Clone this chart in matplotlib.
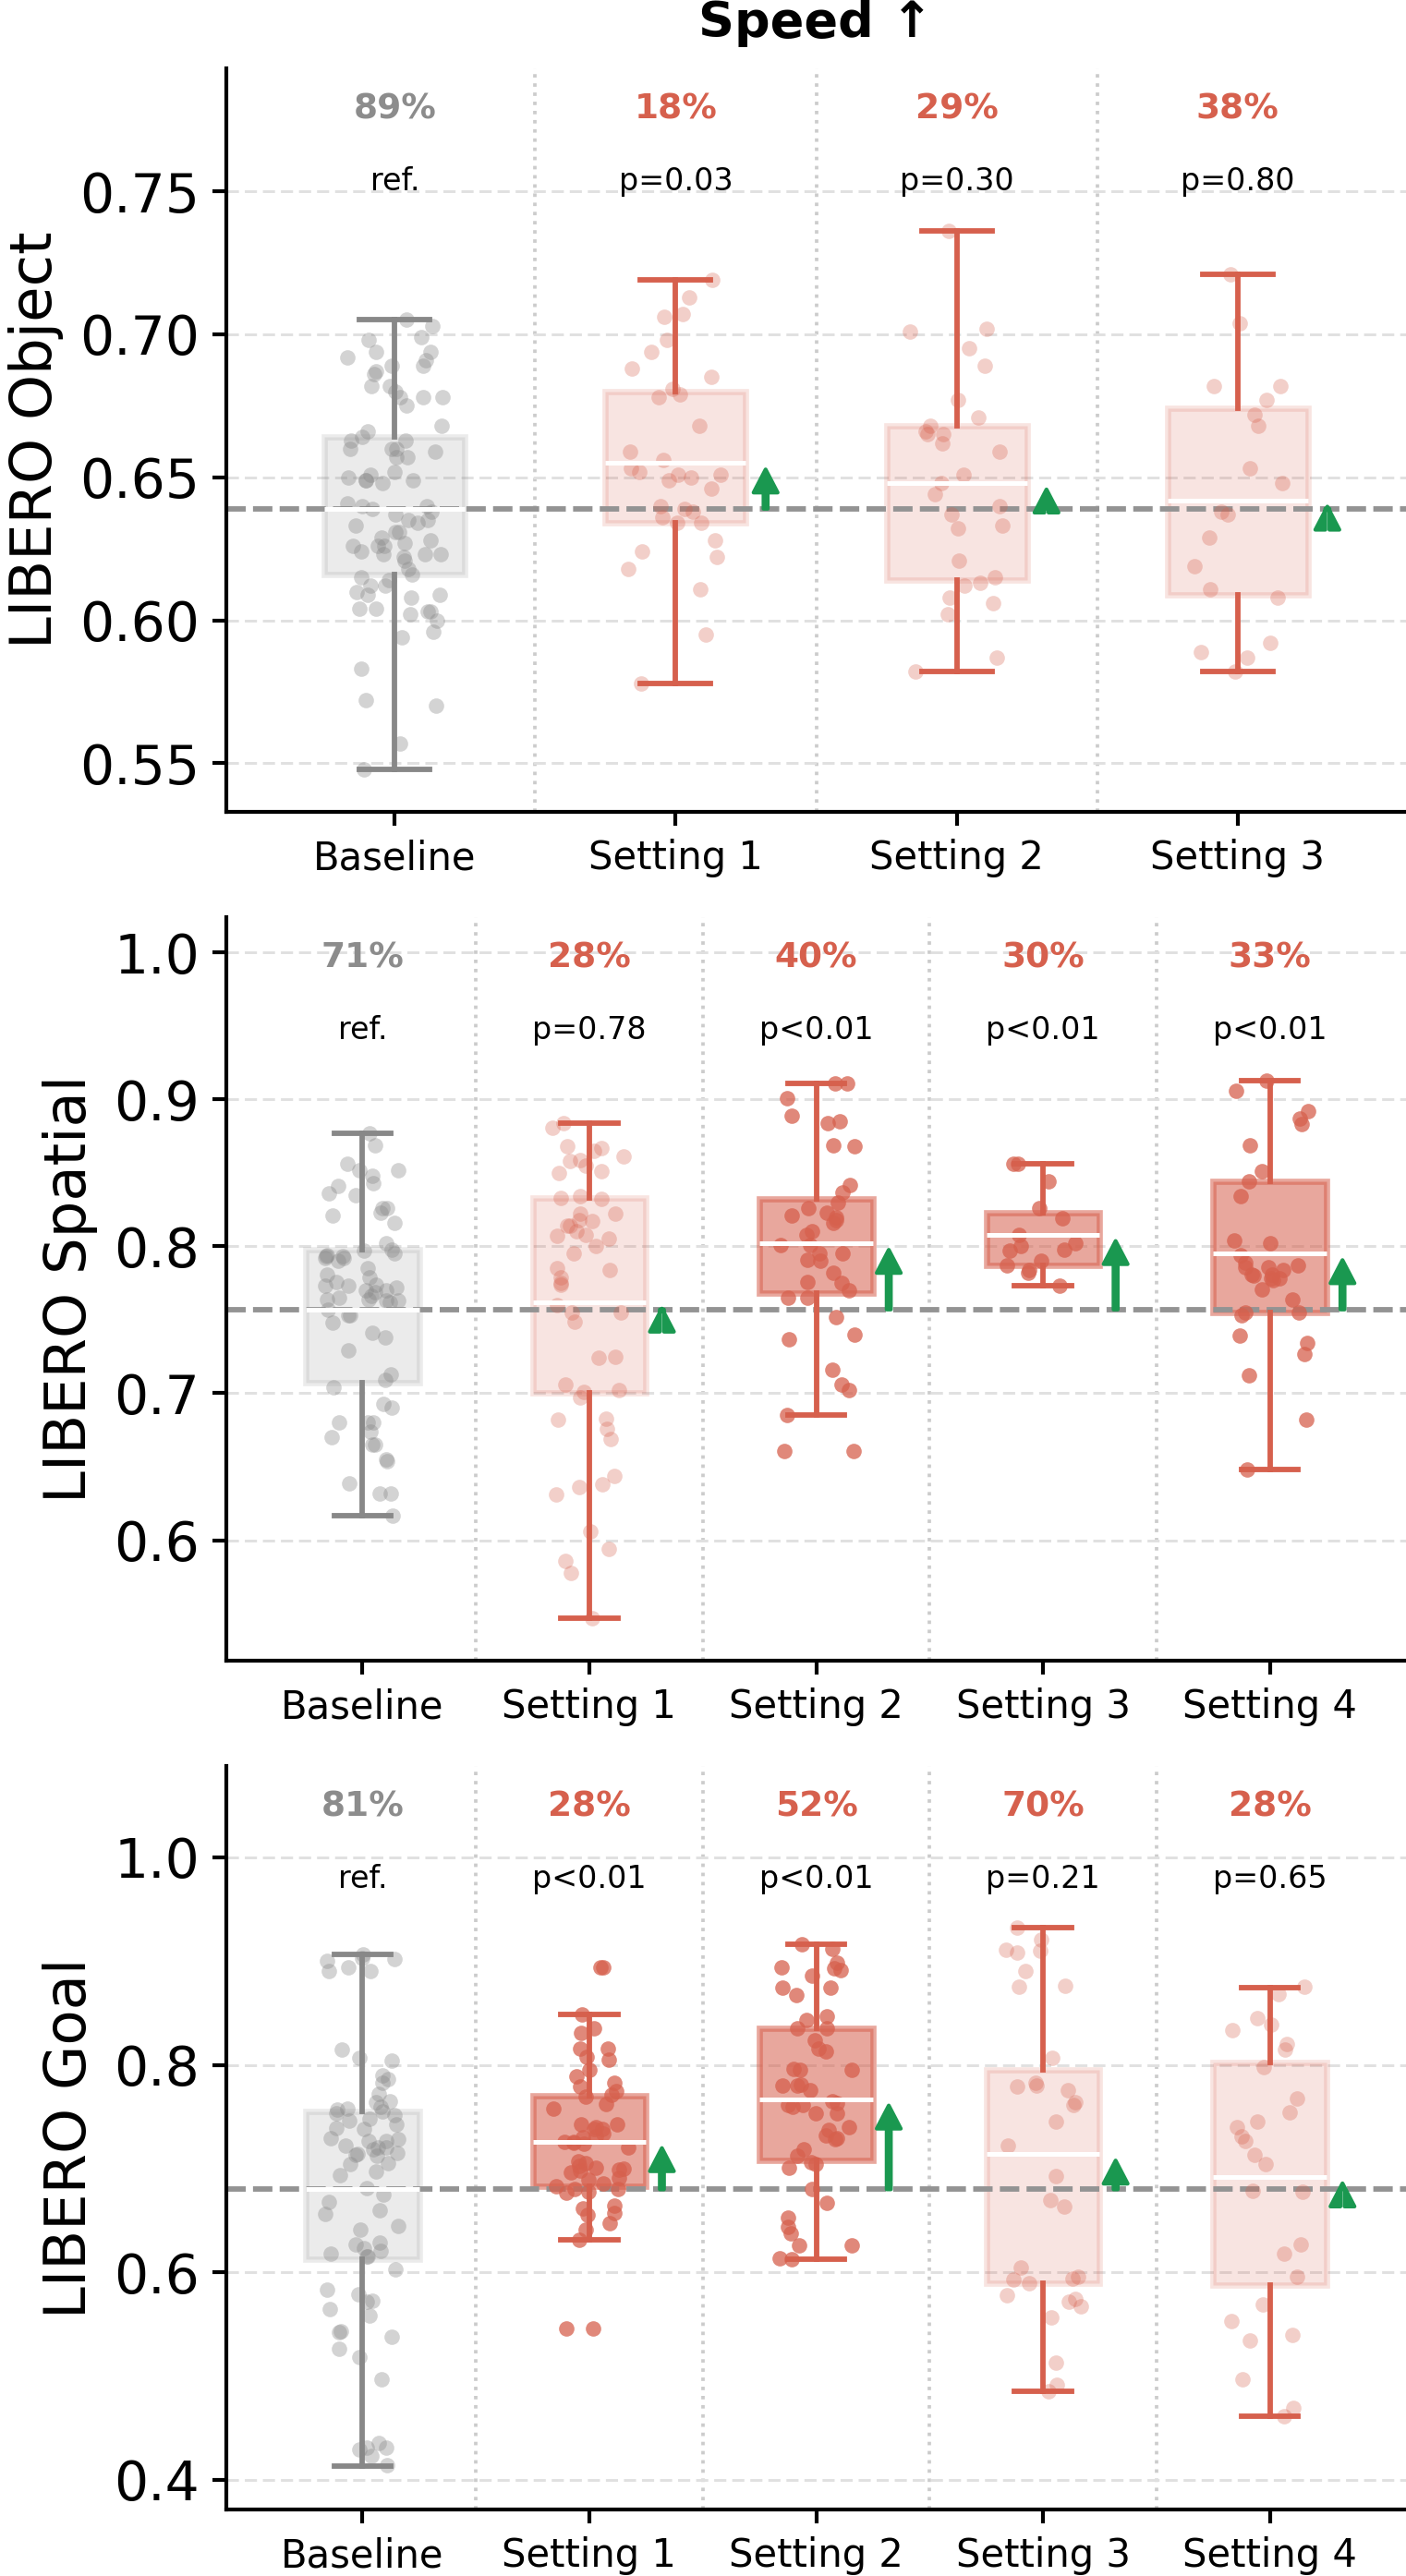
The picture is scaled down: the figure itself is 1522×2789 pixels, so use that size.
import numpy as np
import matplotlib
matplotlib.use("Agg")
import matplotlib.pyplot as plt
from matplotlib.patches import FancyArrow
from matplotlib.colors import to_rgba
import matplotlib.transforms as mtransforms

plt.rcParams['font.family'] = ['DejaVu Sans']

# ---------------- data ----------------
title = "Speed \u2191"
panel_names = ["LIBERO Object", "LIBERO Spatial", "LIBERO Goal"]

# LIBERO Object
obj_labels = ["Baseline", "Setting 1", "Setting 2", "Setting 3"]
obj_rates = ["89%", "18%", "29%", "38%"]
obj_pvals = ["ref.", "p=0.03", "p=0.30", "p=0.80"]
obj_med = [0.639, 0.655, 0.648, 0.642]
obj_q1 = [0.616, 0.634, 0.614, 0.609]
obj_q3 = [0.664, 0.680, 0.668, 0.674]
obj_lo = [0.548, 0.578, 0.582, 0.582]
obj_hi = [0.705, 0.719, 0.736, 0.721]
obj_base = [0.705, 0.703, 0.699, 0.698, 0.694, 0.694, 0.692, 0.691, 0.689, 0.689, 0.687, 0.686,
            0.682, 0.682, 0.680, 0.678, 0.678, 0.678, 0.675, 0.668, 0.666, 0.664, 0.663, 0.663,
            0.660, 0.660, 0.660, 0.659, 0.657, 0.657, 0.652, 0.651, 0.650, 0.649, 0.649, 0.649,
            0.648, 0.641, 0.640, 0.640, 0.639, 0.638, 0.637, 0.635, 0.635, 0.634, 0.633, 0.631,
            0.631, 0.628, 0.629, 0.627, 0.626, 0.626, 0.626, 0.624, 0.623, 0.623, 0.623, 0.622,
            0.621, 0.618, 0.616, 0.615, 0.614, 0.612, 0.612, 0.610, 0.609, 0.609, 0.608, 0.604,
            0.603, 0.602, 0.604, 0.603, 0.600, 0.596, 0.594, 0.583, 0.572, 0.570, 0.557, 0.548]
obj_s1 = [0.719, 0.713, 0.707, 0.706, 0.698, 0.694, 0.688, 0.685, 0.681, 0.679, 0.678, 0.668,
          0.659, 0.656, 0.653, 0.652, 0.651, 0.650, 0.649, 0.651, 0.646, 0.640, 0.639, 0.638,
          0.636, 0.634, 0.634, 0.628, 0.624, 0.622, 0.618, 0.611, 0.595, 0.578]
obj_s2 = [0.736, 0.702, 0.701, 0.695, 0.689, 0.677, 0.671, 0.668, 0.665, 0.665, 0.666, 0.662,
          0.659, 0.651, 0.648, 0.644, 0.640, 0.637, 0.633, 0.632, 0.621, 0.615, 0.613, 0.612,
          0.608, 0.606, 0.602, 0.587, 0.582]
obj_s3 = [0.721, 0.704, 0.682, 0.682, 0.677, 0.672, 0.668, 0.653, 0.648, 0.638, 0.637, 0.629,
          0.619, 0.611, 0.608, 0.592, 0.589, 0.587, 0.582]

# LIBERO Spatial
spa_labels = ["Baseline", "Setting 1", "Setting 2", "Setting 3", "Setting 4"]
spa_rates = ["71%", "28%", "40%", "30%", "33%"]
spa_pvals = ["ref.", "p=0.78", "p<0.01", "p<0.01", "p<0.01"]
spa_med = [0.757, 0.762, 0.802, 0.808, 0.795]
spa_q1 = [0.707, 0.700, 0.768, 0.787, 0.755]
spa_q3 = [0.798, 0.833, 0.832, 0.823, 0.844]
spa_lo = [0.617, 0.547, 0.685, 0.773, 0.648]
spa_hi = [0.877, 0.884, 0.911, 0.856, 0.913]
spa_base = [0.877, 0.869, 0.856, 0.852, 0.852, 0.848, 0.843, 0.841, 0.836, 0.835, 0.826, 0.826,
            0.823, 0.821, 0.816, 0.802, 0.798, 0.797, 0.795, 0.794, 0.793, 0.792, 0.792, 0.793,
            0.790, 0.785, 0.781, 0.779, 0.776, 0.774, 0.773, 0.773, 0.772, 0.770, 0.770, 0.769,
            0.766, 0.765, 0.764, 0.764, 0.763, 0.763, 0.762, 0.757, 0.753, 0.753, 0.748, 0.741,
            0.738, 0.729, 0.713, 0.709, 0.704, 0.693, 0.690, 0.680, 0.680, 0.680, 0.674, 0.670,
            0.665, 0.665, 0.654, 0.655, 0.639, 0.632, 0.632, 0.617]
spa_s1 = [0.884, 0.881, 0.867, 0.868, 0.865, 0.861, 0.859, 0.858, 0.855, 0.851, 0.850, 0.834,
          0.833, 0.832, 0.822, 0.822, 0.818, 0.817, 0.814, 0.814, 0.810, 0.808, 0.807, 0.805,
          0.800, 0.795, 0.785, 0.784, 0.779, 0.774, 0.775, 0.760, 0.755, 0.755, 0.749, 0.725,
          0.724, 0.706, 0.701, 0.702, 0.697, 0.683, 0.682, 0.676, 0.669, 0.644, 0.638, 0.636,
          0.631, 0.606, 0.594, 0.586, 0.578, 0.547]
spa_s2 = [0.911, 0.911, 0.901, 0.889, 0.885, 0.884, 0.869, 0.868, 0.842, 0.837, 0.830, 0.826,
          0.823, 0.821, 0.820, 0.818, 0.816, 0.810, 0.808, 0.801, 0.801, 0.795, 0.795, 0.791,
          0.790, 0.782, 0.776, 0.775, 0.770, 0.765, 0.765, 0.752, 0.740, 0.737, 0.716, 0.706,
          0.702, 0.685, 0.661, 0.661]
spa_s3 = [0.856, 0.856, 0.844, 0.826, 0.819, 0.808, 0.802, 0.800, 0.798, 0.797, 0.790, 0.787,
          0.784, 0.782, 0.773]
spa_s4 = [0.913, 0.906, 0.892, 0.887, 0.883, 0.869, 0.851, 0.844, 0.834, 0.804, 0.802, 0.794,
          0.789, 0.787, 0.786, 0.786, 0.784, 0.781, 0.781, 0.780, 0.778, 0.778, 0.777, 0.771,
          0.764, 0.755, 0.755, 0.753, 0.739, 0.734, 0.727, 0.712, 0.682, 0.648]

# LIBERO Goal
goal_labels = ["Baseline", "Setting 1", "Setting 2", "Setting 3", "Setting 4"]
goal_rates = ["81%", "28%", "52%", "70%", "28%"]
goal_pvals = ["ref.", "p<0.01", "p<0.01", "p=0.21", "p=0.65"]
goal_med = [0.680, 0.726, 0.767, 0.714, 0.692]
goal_q1 = [0.613, 0.683, 0.708, 0.590, 0.588]
goal_q3 = [0.755, 0.770, 0.835, 0.795, 0.802]
goal_lo = [0.413, 0.631, 0.613, 0.485, 0.461]
goal_hi = [0.906, 0.849, 0.916, 0.932, 0.874]
goal_base = [0.906, 0.903, 0.902, 0.900, 0.894, 0.890, 0.890, 0.815, 0.807, 0.804, 0.790, 0.786,
             0.783, 0.772, 0.765, 0.764, 0.760, 0.758, 0.757, 0.755, 0.753, 0.752, 0.748, 0.746,
             0.743, 0.739, 0.738, 0.729, 0.728, 0.727, 0.727, 0.722, 0.720, 0.720, 0.719, 0.715,
             0.714, 0.713, 0.712, 0.705, 0.704, 0.697, 0.694, 0.681, 0.675, 0.668, 0.660, 0.656,
             0.645, 0.641, 0.627, 0.629, 0.623, 0.621, 0.618, 0.615, 0.615, 0.603, 0.583, 0.579,
             0.573, 0.572, 0.565, 0.558, 0.543, 0.542, 0.538, 0.526, 0.518, 0.497, 0.436, 0.431,
             0.431, 0.429, 0.423, 0.414]
goal_s1 = [0.894, 0.894, 0.849, 0.835, 0.831, 0.816, 0.816, 0.808, 0.805, 0.795, 0.789, 0.783,
           0.779, 0.775, 0.771, 0.769, 0.762, 0.758, 0.743, 0.743, 0.740, 0.738, 0.738, 0.734,
           0.731, 0.730, 0.726, 0.726, 0.725, 0.724, 0.720, 0.707, 0.705, 0.703, 0.701, 0.700,
           0.699, 0.698, 0.696, 0.691, 0.689, 0.686, 0.683, 0.680, 0.680, 0.678, 0.677, 0.662,
           0.664, 0.657, 0.655, 0.647, 0.641, 0.631, 0.546, 0.546]
goal_s2 = [0.916, 0.912, 0.898, 0.894, 0.893, 0.891, 0.886, 0.874, 0.874, 0.867, 0.847, 0.843,
           0.835, 0.835, 0.824, 0.816, 0.813, 0.796, 0.795, 0.795, 0.781, 0.780, 0.780, 0.776,
           0.763, 0.765, 0.760, 0.761, 0.761, 0.753, 0.753, 0.740, 0.737, 0.732, 0.729, 0.728,
           0.719, 0.712, 0.706, 0.704, 0.701, 0.680, 0.667, 0.653, 0.644, 0.638, 0.626, 0.626,
           0.614, 0.613]
goal_s3 = [0.932, 0.921, 0.911, 0.910, 0.908, 0.890, 0.876, 0.875, 0.807, 0.783, 0.780, 0.776,
           0.779, 0.764, 0.761, 0.745, 0.722, 0.693, 0.670, 0.663, 0.605, 0.596, 0.594, 0.593,
           0.590, 0.578, 0.572, 0.574, 0.567, 0.557, 0.513, 0.492, 0.485]
goal_s4 = [0.875, 0.868, 0.845, 0.839, 0.833, 0.820, 0.815, 0.798, 0.768, 0.754, 0.745, 0.740,
           0.731, 0.727, 0.713, 0.704, 0.678, 0.679, 0.627, 0.618, 0.596, 0.569, 0.553, 0.540,
           0.534, 0.497, 0.469, 0.461]

obj_ylim = (0.533, 0.793)
spa_ylim = (0.518, 1.024)
goal_ylim = (0.3715, 1.088)
obj_yticks = [0.55, 0.60, 0.65, 0.70, 0.75]
spa_yticks = [0.6, 0.7, 0.8, 0.9, 1.0]
goal_yticks = [0.4, 0.6, 0.8, 1.0]

# ---------------- style ----------------
RED = "#d6604d"
GRAY = "#888888"
GREEN = "#1a9850"

W, H, DPI = 1522, 2789, 300
fig = plt.figure(figsize=(W / DPI, H / DPI), dpi=DPI)

left = 245 / W
axes_px = [(74, 879), (993, 1798), (1912, 2717)]

panels = [
    dict(name=panel_names[0], labels=obj_labels, rates=obj_rates, pvals=obj_pvals,
         med=obj_med, q1=obj_q1, q3=obj_q3, lo=obj_lo, hi=obj_hi,
         pts=[obj_base, obj_s1, obj_s2, obj_s3], ylim=obj_ylim, yticks=obj_yticks, fmt="{:.2f}"),
    dict(name=panel_names[1], labels=spa_labels, rates=spa_rates, pvals=spa_pvals,
         med=spa_med, q1=spa_q1, q3=spa_q3, lo=spa_lo, hi=spa_hi,
         pts=[spa_base, spa_s1, spa_s2, spa_s3, spa_s4], ylim=spa_ylim, yticks=spa_yticks, fmt="{:.1f}"),
    dict(name=panel_names[2], labels=goal_labels, rates=goal_rates, pvals=goal_pvals,
         med=goal_med, q1=goal_q1, q3=goal_q3, lo=goal_lo, hi=goal_hi,
         pts=[goal_base, goal_s1, goal_s2, goal_s3, goal_s4], ylim=goal_ylim, yticks=goal_yticks, fmt="{:.1f}"),
]

rng = np.random.default_rng(7)

for (top_px, bot_px), P in zip(axes_px, panels):
    ax = fig.add_axes([left, 1 - bot_px / H, 1 - left, (bot_px - top_px) / H])
    n = len(P["labels"])
    ax.set_xlim(-0.6, n - 0.4)
    ax.set_ylim(*P["ylim"])
    ref = P["med"][0]

    for s in ["top", "right"]:
        ax.spines[s].set_visible(False)
    for s in ["left", "bottom"]:
        ax.spines[s].set_linewidth(1.0)

    ax.set_axisbelow(True)
    ax.yaxis.grid(True, color="#e0e0e0", linewidth=0.7, linestyle=(0, (4.5, 2.2)))
    for i in range(n - 1):
        ax.axvline(i + 0.5, color="#cccccc", linewidth=0.9, linestyle=":", zorder=0.5)

    ax.axhline(ref, color="#939393", linewidth=1.4, linestyle=(0, (3.6, 1.35)), zorder=2.5)

    trans = mtransforms.blended_transform_factory(ax.transData, ax.transAxes)
    ppx = ax.transData.transform((1, 0))[0] - ax.transData.transform((0, 0))[0]
    ppy = ax.transData.transform((0, 1))[1] - ax.transData.transform((0, 0))[1]

    for i in range(n):
        c = GRAY if i == 0 else RED
        sig = P["pvals"][i].startswith("p<")
        if i == 0:
            box_a, pt_a = 0.16, 0.37
        elif sig:
            box_a, pt_a = 0.55, 0.75
        else:
            box_a, pt_a = 0.17, 0.30
        st = dict(med=P["med"][i], q1=P["q1"][i], q3=P["q3"][i],
                  whislo=P["lo"][i], whishi=P["hi"][i], fliers=[])
        ax.bxp([st], positions=[i], widths=0.5, patch_artist=True, showfliers=False,
               manage_ticks=False,
               boxprops=dict(facecolor=to_rgba(c, box_a), edgecolor=to_rgba(c, box_a),
                             linewidth=1.6, zorder=2),
               whiskerprops=dict(color=c, linewidth=1.4, zorder=3),
               capprops=dict(color=c, linewidth=1.4, zorder=3),
               medianprops=dict(color="white", linewidth=1.2, zorder=4.5))
        y = np.asarray(P["pts"][i])
        x = i + rng.uniform(-0.17, 0.17, len(y))
        ax.scatter(x, y, s=16, color=c, alpha=pt_a, linewidths=0, zorder=3.5)

        tcol = "#8c8c8c" if i == 0 else RED
        ax.text(i, 0.945, P["rates"][i], transform=trans, ha="center", va="center",
                fontsize=9, fontweight="bold", color=tcol)
        ax.text(i, 0.848, P["pvals"][i], transform=trans, ha="center", va="center",
                fontsize=8, color="black")

        if i > 0:
            tip = P["med"][i] - 7 / ppy
            dy = max(tip - ref, 1e-6)
            ax.add_patch(FancyArrow(i + 0.32, tip - dy, 0, dy, width=4.5 / ppx,
                                    head_width=26 / ppx, head_length=25 / ppy,
                                    length_includes_head=True, facecolor=GREEN,
                                    edgecolor=GREEN, linewidth=1.0, joinstyle="round",
                                    zorder=5))

    ax.set_xticks(range(n))
    ax.set_xticklabels(P["labels"], fontsize=10)
    ax.set_yticks(P["yticks"])
    ax.set_yticklabels([P["fmt"].format(v) for v in P["yticks"]], fontsize=14)
    ax.set_ylabel(P["name"], fontsize=15)
    ax.tick_params(width=1.0)

fig.text((left + 1) / 2, 1 - 25 / H, title, ha="center", va="center",
         fontsize=13, fontweight="bold")

fig.savefig("out.png", dpi=DPI)
